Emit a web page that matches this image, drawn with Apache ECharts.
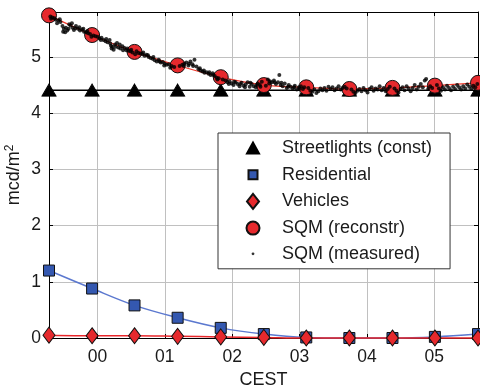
<!DOCTYPE html>
<html>
<head>
<meta charset="utf-8">
<script src="https://cdn.jsdelivr.net/npm/echarts@6/dist/echarts.min.js"></script>
<style>
html,body{margin:0;padding:0;background:#fff;}
#c{width:480px;height:388px;}
</style>
</head>
<body>
<div id="c"></div>
<script>
// Marker times (hours after midnight CEST, negative = before midnight)
var markerHours = [-0.72, -0.08, 0.55, 1.19, 1.83, 2.47, 3.10, 3.74, 4.38, 5.01, 5.65];
var streetlights = [4.41, 4.41, 4.41, 4.41, 4.41, 4.41, 4.41, 4.41, 4.41, 4.41, 4.41];
var residential = [1.20, 0.88, 0.58, 0.36, 0.18, 0.07, 0.01, 0.00, 0.00, 0.02, 0.07];
var vehicles = [0.05, 0.04, 0.04, 0.03, 0.02, 0.01, 0.00, 0.00, 0.00, 0.00, 0.00];
var sqmReconstr = [5.74, 5.39, 5.09, 4.85, 4.64, 4.50, 4.46, 4.43, 4.45, 4.49, 4.54];
var sqmMeasured = [
[-0.70,5.72],[-0.67,5.70],[-0.64,5.69],[-0.62,5.66],[-0.58,5.65],[-0.55,5.62],[-0.52,5.55],[-0.50,5.50],[-0.47,5.52],[-0.45,5.47],
[-0.42,5.58],[-0.40,5.56],[-0.37,5.52],[-0.35,5.48],[-0.32,5.55],[-0.29,5.50],[-0.26,5.47],[-0.23,5.49],[-0.20,5.45],[-0.17,5.44],
[-0.14,5.42],[-0.11,5.41],[-0.06,5.38],[-0.03,5.37],
[-0.69,5.68],[-0.60,5.60],[-0.56,5.67],[-0.51,5.45],[-0.48,5.44],[-0.43,5.50],[-0.38,5.60],[-0.33,5.51],[-0.27,5.53],[-0.21,5.50],
[-0.15,5.46],[-0.09,5.36],
[0.00,5.36],[0.03,5.33],[0.06,5.34],[0.09,5.30],[0.12,5.28],[0.15,5.26],[0.18,5.30],[0.20,5.20],[0.22,5.18],[0.24,5.13],
[0.26,5.22],[0.29,5.25],[0.31,5.17],[0.34,5.15],[0.37,5.19],[0.40,5.16],[0.43,5.12],[0.46,5.11],[0.49,5.10],[0.52,5.08],
[0.58,5.10],[0.61,5.07],
[0.05,5.30],[0.13,5.32],[0.19,5.24],[0.21,5.15],[0.27,5.18],[0.33,5.22],[0.38,5.12],[0.44,5.15],[0.50,5.13],[0.56,5.05],
[0.64,5.06],[0.67,5.05],[0.70,5.02],[0.73,5.04],[0.76,5.00],[0.79,4.98],[0.82,4.97],[0.85,4.94],[0.88,4.92],[0.91,4.95],
[0.94,4.90],[0.97,4.91],[1.00,4.88],[1.03,4.86],[1.06,4.87],[1.10,4.84],[1.14,4.82],[1.22,4.84],
[0.68,5.08],[0.75,5.03],[0.83,5.00],[0.92,4.92],[0.99,4.85],[1.08,4.81],
[1.26,4.86],[1.29,4.88],[1.32,4.90],[1.35,4.85],[1.38,4.92],[1.41,4.87],[1.44,4.95],[1.47,4.83],[1.50,4.78],[1.53,4.76],
[1.56,4.74],[1.59,4.72],[1.62,4.73],[1.65,4.70],[1.68,4.68],[1.71,4.71],[1.74,4.66],[1.77,4.63],[1.80,4.62],[1.86,4.60],
[1.28,4.84],[1.36,4.88],[1.42,4.84],[1.52,4.80],[1.58,4.76],[1.66,4.73],[1.72,4.68],[1.78,4.60],
[1.90,4.58],[1.93,4.55],[1.96,4.57],[1.99,4.53],[2.02,4.50],[2.05,4.55],[2.08,4.52],[2.11,4.48],[2.14,4.54],[2.17,4.49],
[2.20,4.51],[2.23,4.55],[2.26,4.47],[2.29,4.52],[2.32,4.48],[2.35,4.46],[2.38,4.53],[2.41,4.50],[2.44,4.56],[2.50,4.49],
[1.95,4.52],[2.03,4.56],[2.12,4.52],[2.19,4.46],[2.27,4.54],[2.36,4.50],[2.42,4.47],
[2.53,4.60],[2.56,4.57],[2.59,4.55],[2.62,4.58],[2.65,4.52],[2.68,4.55],[2.70,4.68],[2.72,4.50],[2.75,4.48],[2.78,4.53],
[2.81,4.45],[2.84,4.50],[2.87,4.47],[2.90,4.44],[2.93,4.49],[2.96,4.42],[2.99,4.46],[3.02,4.48],[3.05,4.43],[3.13,4.45],
[2.55,4.53],[2.63,4.55],[2.73,4.54],[2.83,4.47],[2.92,4.46],[3.00,4.43],[3.07,4.46],
[3.16,4.40],[3.19,4.38],[3.22,4.42],[3.25,4.36],[3.28,4.39],[3.31,4.44],[3.34,4.41],[3.37,4.45],[3.40,4.40],[3.43,4.47],
[3.46,4.43],[3.49,4.46],[3.52,4.41],[3.55,4.44],[3.58,4.48],[3.61,4.42],[3.64,4.45],[3.67,4.47],[3.70,4.44],[3.77,4.42],
[3.80,4.38],[3.83,4.36],[3.86,4.40],[3.89,4.43],[3.92,4.39],[3.95,4.45],[3.98,4.41],[4.01,4.37],[4.04,4.43],[4.07,4.46],
[4.10,4.40],[4.13,4.44],[4.16,4.42],[4.19,4.48],[4.22,4.41],[4.25,4.45],[4.28,4.39],[4.31,4.43],[4.34,4.47],[4.41,4.44],
[4.44,4.40],[4.47,4.37],[4.50,4.43],[4.53,4.46],[4.56,4.41],[4.59,4.48],[4.62,4.44],[4.65,4.39],[4.68,4.45],[4.71,4.50],
[4.74,4.42],[4.77,4.47],[4.80,4.52],[4.83,4.46],[4.86,4.58],[4.88,4.61],[4.91,4.43],[4.94,4.48],[4.97,4.45],[5.04,4.50],
[5.07,4.44],[5.10,4.40],[5.13,4.46],[5.16,4.42],[5.19,4.49],[5.22,4.45],[5.25,4.41],[5.28,4.47],[5.31,4.43],[5.34,4.50],
[5.37,4.46],[5.40,4.42],[5.43,4.48],[5.46,4.44],[5.49,4.51],[5.52,4.47],[5.55,4.43],[5.58,4.49],[5.61,4.46],[5.64,4.52]
];
var xMin = -0.72, xMax = 5.65, yMin = 0, yMax = 5.8;
var names = ['Streetlights (const)', 'Residential', 'Vehicles', 'SQM (reconstr)', 'SQM (measured)'];

function pair(ys){ return markerHours.map(function(h,i){ return [h, ys[i]]; }); }

var FONT = 'Liberation Sans, Arial, Helvetica, sans-serif';
var TXT = '#1a1a1a';
var chart = echarts.init(document.getElementById('c'), null, {renderer:'canvas'});

var baseX = {
  type:'value', min:xMin, max:xMax, minInterval:1, maxInterval:1,
  axisLine:{show:true, onZero:false, lineStyle:{color:'#000', width:1}},
  axisTick:{show:true, inside:true, length:4, lineStyle:{color:'#000'}},
  splitLine:{show:false}
};
var baseY = {
  type:'value', min:yMin, max:yMax, minInterval:1, maxInterval:1,
  axisLine:{show:true, onZero:false, lineStyle:{color:'#000', width:1}},
  axisTick:{show:true, inside:true, length:4, lineStyle:{color:'#000'}},
  splitLine:{show:false}
};

var option = {
  animation:false,
  backgroundColor:'#fff',
  textStyle:{fontFamily:FONT},
  grid:{left:49, right:2, top:12, bottom:50, show:false, containLabel:false, outerBoundsMode:'none'},
  legend:{
    orient:'vertical', left:218, top:133,
    backgroundColor:'#fff', borderColor:'#333', borderWidth:1,
    padding:[4,18,5,24], itemWidth:48, itemHeight:20, itemGap:4.7,
    selectedMode:false, symbolKeepAspect:true,
    textStyle:{fontFamily:FONT, fontSize:18, color:TXT, lineHeight:20},
    data:[
      {name:names[0], icon:'path://M0 0M20 20M4 15.5L10 4.5L16 15.5Z'},
      {name:names[1], icon:'path://M0 0M20 20M5.5 5.5L14.5 5.5L14.5 14.5L5.5 14.5Z'},
      {name:names[2], icon:'path://M0 0M20 20M10 2.5L16 10L10 17.5L4 10Z'},
      {name:names[3], icon:'path://M0 0M20 20M3.5 10A6.5 6.5 0 1 1 16.5 10A6.5 6.5 0 1 1 3.5 10Z'},
      {name:names[4], icon:'path://M0 0M20 20M8.6 10A1.4 1.4 0 1 1 11.4 10A1.4 1.4 0 1 1 8.6 10Z'}
    ]
  },
  xAxis:[
    Object.assign({}, baseX, {
      position:'bottom',
      name:'CEST', nameLocation:'middle', nameGap:33, nameMoveOverlap:false,
      nameTextStyle:{fontFamily:FONT, fontSize:18, color:TXT},
      splitLine:{show:true, lineStyle:{color:'#c0c0c0', width:1}},
      axisLabel:{show:true, margin:10, fontFamily:FONT, fontSize:17.5, color:TXT,
        showMinLabel:false, showMaxLabel:false,
        formatter:function(v){ var n=Math.round(v); if(Math.abs(v-n)>1e-6) return ''; return (n<10?'0':'')+Math.abs(n); }}
    }),
    Object.assign({}, baseX, {position:'top', axisLabel:{show:false}})
  ],
  yAxis:[
    Object.assign({}, baseY, {
      position:'left',
      name:'mcd/m{sup|2}', nameLocation:'middle', nameGap:24, nameRotate:90, nameMoveOverlap:false,
      nameTextStyle:{fontFamily:FONT, fontSize:18, color:TXT,
        rich:{sup:{fontFamily:FONT, fontSize:12, color:TXT, verticalAlign:'top', padding:[0,0,9,0]}}},
      splitLine:{show:true, lineStyle:{color:'#c0c0c0', width:1}},
      axisLabel:{show:true, margin:8, fontFamily:FONT, fontSize:17.5, color:TXT,
        showMaxLabel:false,
        formatter:function(v){ var n=Math.round(v); if(Math.abs(v-n)>1e-6) return ''; return String(n); }}
    }),
    Object.assign({}, baseY, {position:'right', axisLabel:{show:false}})
  ],
  series:[
    {
      name:names[0], type:'line', data:pair(streetlights), clip:false,
      symbol:'triangle', symbolSize:[14,12],
      lineStyle:{color:'#000', width:1.5},
      itemStyle:{color:'#000', borderColor:'#000', borderWidth:1},
      z:3
    },
    {
      name:names[1], type:'line', data:pair(residential), clip:false, smooth:0.35,
      symbol:'rect', symbolSize:11,
      lineStyle:{color:'#5b78cf', width:1.5},
      itemStyle:{color:'#3458b0', borderColor:'#111', borderWidth:1},
      z:4
    },
    {
      name:names[2], type:'line', data:pair(vehicles), clip:false, smooth:0.3,
      symbol:'diamond', symbolSize:[12,16],
      lineStyle:{color:'#e8262a', width:1.5},
      itemStyle:{color:'#e6292d', borderColor:'#111', borderWidth:1},
      z:5
    },
    {
      name:names[3], type:'line', data:pair(sqmReconstr), clip:false, smooth:0.3,
      symbol:'circle', symbolSize:15,
      lineStyle:{color:'#f03a2c', width:1.2},
      itemStyle:{color:'#e6292d', borderColor:'#111', borderWidth:1},
      z:6
    },
    {
      name:names[4], type:'scatter', data:sqmMeasured, clip:false,
      symbol:'circle', symbolSize:4,
      itemStyle:{color:'#000'},
      z:7
    }
  ]
};
chart.setOption(option);
</script>
</body>
</html>
